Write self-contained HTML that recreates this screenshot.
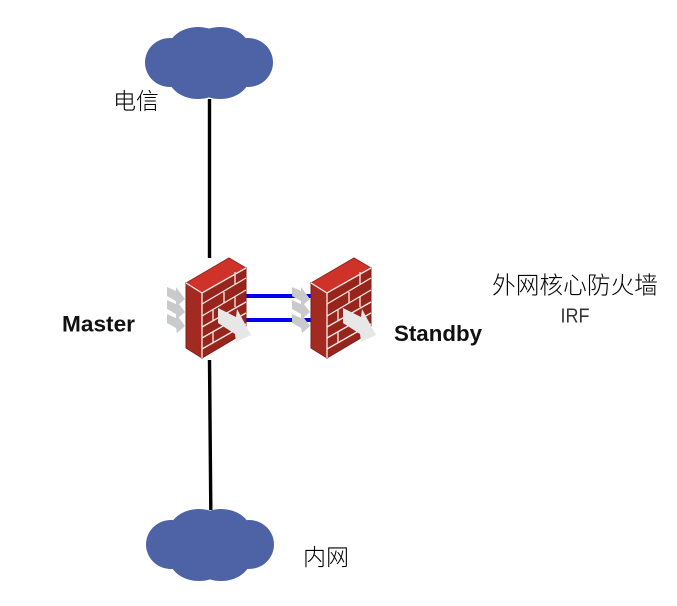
<!DOCTYPE html>
<html>
<head>
<meta charset="utf-8">
<style>
html,body{margin:0;padding:0;background:#fff;width:677px;height:606px;overflow:hidden}
svg{display:block}
text{font-family:"Liberation Sans","Noto Sans CJK SC",sans-serif;fill:#000}
</style>
</head>
<body>
<svg width="677" height="606" viewBox="0 0 677 606" xmlns="http://www.w3.org/2000/svg">
<defs>
<g id="cloud" fill="#4d63a6">
  <ellipse cx="170" cy="62.5" rx="25" ry="24.5"/>
  <ellipse cx="248" cy="62.5" rx="25" ry="24.5"/>
  <ellipse cx="198" cy="50" rx="30" ry="23"/>
  <ellipse cx="220" cy="50" rx="30" ry="23"/>
  <ellipse cx="198" cy="76" rx="30" ry="23"/>
  <ellipse cx="220" cy="76" rx="30" ry="23"/>
  <rect x="165" y="42" width="88" height="41"/>
</g>
<g id="arrowG" fill="#c9cacb">
  <polygon points="167,287 176,291 176,287 185,299 177,306 176,301 167,296"/>
</g>
<g id="fw">
  <use href="#arrowG"/>
  <use href="#arrowG" y="13"/>
  <use href="#arrowG" y="27"/>
  <polygon points="186,283 202,293 202,358 186,348" fill="#a32a20" stroke="#7d1f18" stroke-width="1"/>
  <polygon points="202,293 246,268 246,332 202,358" fill="#97251c" stroke="#7d1f18" stroke-width="1"/>
  <polygon points="186,283 229,258 246,268 202,293" fill="#cf3229" stroke="#9a241c" stroke-width="1"/>
  <g stroke="#f6ebe7" stroke-width="1.3" fill="none">
    <polyline points="186,283 202,293 246,268"/>
    <line x1="202" y1="293" x2="202" y2="358"/>
    <line x1="202" y1="304" x2="246" y2="278"/>
    <line x1="202" y1="316" x2="246" y2="290"/>
    <line x1="202" y1="327" x2="246" y2="302"/>
    <line x1="202" y1="338" x2="246" y2="313"/>
    <line x1="202" y1="349" x2="246" y2="324"/>
    <line x1="235" y1="272" x2="235" y2="284"/>
    <line x1="224" y1="292" x2="224" y2="303"/>
    <line x1="235" y1="296" x2="235" y2="307"/>
    <line x1="213" y1="310" x2="213" y2="321"/>
    <line x1="213" y1="332" x2="213" y2="343"/>
  </g>
  <polygon points="218,308 236,317 237,309 251,335 236,342 235,334 218,323" fill="#e6e7e6"/>
</g>
</defs>

<rect width="677" height="606" fill="#fff"/>

<line x1="209.5" y1="99" x2="209.5" y2="258" stroke="#000" stroke-width="3.4"/>
<line x1="209.5" y1="360" x2="210.8" y2="510" stroke="#000" stroke-width="3.4"/>
<line x1="246" y1="296" x2="312" y2="296" stroke="#0000ee" stroke-width="4"/>
<line x1="246" y1="320" x2="312" y2="320" stroke="#0000ee" stroke-width="4"/>

<use href="#cloud"/>
<use href="#cloud" x="1" y="482"/>
<use href="#fw"/>
<use href="#fw" x="125"/>

<text x="113" y="109" font-size="23" font-weight="300" textLength="46">电信</text>
<text x="303" y="565" font-size="23" font-weight="300" textLength="46">内网</text>
<text x="62" y="331.5" font-size="22" font-weight="bold" textLength="73" lengthAdjust="spacingAndGlyphs" style="fill:#111">Master</text>
<text x="394" y="341" font-size="22" font-weight="bold" textLength="88" lengthAdjust="spacingAndGlyphs" style="fill:#111">Standby</text>
<text x="492" y="293.5" font-size="23.7" font-weight="300" textLength="166">外网核心防火墙</text>
<text x="560.5" y="322.5" font-size="20" textLength="29" lengthAdjust="spacingAndGlyphs" style="fill:#333">IRF</text>
</svg>
</body>
</html>
